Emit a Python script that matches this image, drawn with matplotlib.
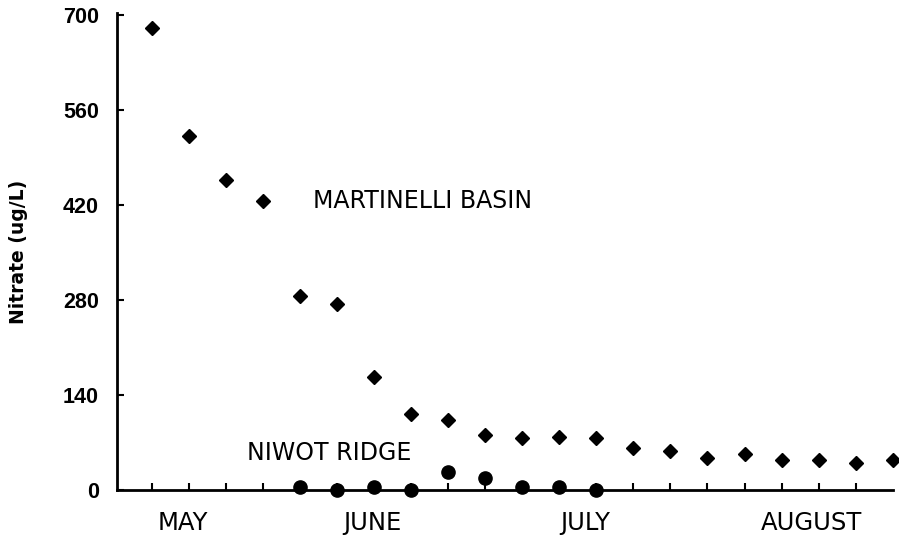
import numpy as np
import matplotlib.pyplot as plt

plt.rcParams['font.family'] = ['Liberation Sans', 'DejaVu Sans']

# Martinelli Basin: one sample per tick (weekly-ish), May -> August
martinelli_x = list(range(21))
martinelli_y = [681, 522, 457, 427, 287, 274, 167, 112, 103, 82, 77, 78, 77,
                62, 57, 47, 53, 44, 44, 40, 44]

# Niwot Ridge samples
niwot_x = [4, 5, 6, 7, 8, 9, 10, 11, 12]
niwot_y = [4, 0, 4, 0, 27, 18, 5, 5, 0]

yticks = [0, 140, 280, 420, 560, 700]
month_labels = ["MAY", "JUNE", "JULY", "AUGUST"]
month_pos = [0.84, 5.94, 11.69, 17.81]

fig = plt.figure(figsize=(8.99, 5.38), dpi=100)
ax = fig.add_axes([0.130, 0.089, 0.863, 0.886])

ax.plot(martinelli_x, martinelli_y, linestyle='none', marker='D',
        markersize=6.8, color='black', clip_on=False)
ax.plot(niwot_x, niwot_y, linestyle='none', marker='o',
        markersize=9.5, color='black', clip_on=False, zorder=5)

ax.set_xlim(-0.945, 20.0)
ax.set_ylim(0, 703)

for s in ['top', 'right']:
    ax.spines[s].set_visible(False)
for s in ['left', 'bottom']:
    ax.spines[s].set_linewidth(2.0)

ax.set_xticks(range(20))
ax.set_xticklabels([])
ax.tick_params(axis='x', direction='in', length=5, width=1.5)

ax.set_yticks(yticks)
ax.set_yticklabels([str(v) for v in yticks], fontsize=15.5, fontweight='bold')
ax.tick_params(axis='y', direction='in', length=5, width=1.5, pad=13)

ax.set_ylabel("Nitrate (ug/L)", fontsize=13.5, fontweight='bold',
              family='DejaVu Sans', labelpad=25)

for lab, pos in zip(month_labels, month_pos):
    ax.text(pos, -0.068, lab, transform=ax.get_xaxis_transform(),
            ha='center', va='center', fontsize=17.5, family='DejaVu Sans')

ax.text(4.35, 427, "MARTINELLI BASIN", ha='left', va='center',
        fontsize=17, family='DejaVu Sans')
ax.text(2.56, 54.5, "NIWOT RIDGE", ha='left', va='center',
        fontsize=17, family='DejaVu Sans')

fig.savefig("out.png", dpi=100)
